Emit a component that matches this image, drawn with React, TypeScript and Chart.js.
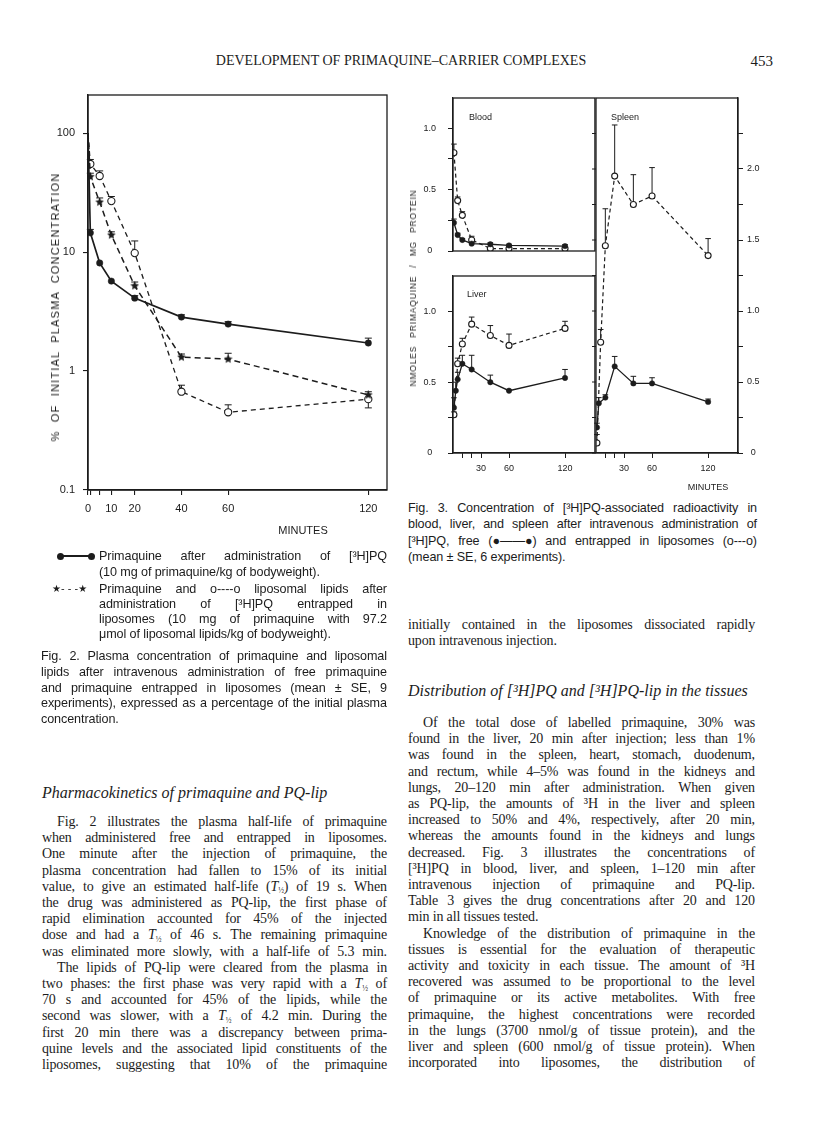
import React, { useEffect, useRef } from "react";
import { Chart, registerables } from "chart.js";
Chart.register(...registerables);

const INK = "#1c1c1c";
const SANS = "'Liberation Sans', Arial, Helvetica, sans-serif";
const SERIF = "'Liberation Serif', 'Times New Roman', serif";

// ---------------- Fig. 2 data (% of initial plasma concentration) ----------------
const fig2Times = [0, 1, 5, 10, 20, 40, 60, 120];
const fig2Free = [100, 14.5, 8.1, 5.7, 4.1, 2.84, 2.48, 1.72];
const fig2FreeSE = [0, 1.0, 0, 0, 0.2, 0.13, 0.12, 0.17];
const fig2LipPQ = [100, 43, 26.3, 13.9, 5.2, 1.31, 1.26, 0.63];
const fig2LipPQSE = [0, 3, 2.2, 0.9, 0.4, 0.08, 0.15, 0.04];
const fig2Lipids = [100, 55, 43.6, 26.8, 9.8, 0.67, 0.45, 0.58];
const fig2LipidsSEUp = [0, 5, 4.5, 2.5, 2.6, 0.09, 0.07, 0];
const fig2LipidsSEDown = [0, 0, 0, 0, 0, 0, 0, 0.09];
const fig2YTicks = [0.1, 1, 10, 100];
const fig2XTicks = [0, 1, 5, 10, 20, 40, 60, 120];
const fig2XLabels = [0, 10, 20, 40, 60, 120];

// ---------------- Fig. 3 data (nmoles primaquine / mg protein) ----------------
const f3XTicks = [10, 20, 30, 60, 120];
const f3XLabels = [30, 60, 120];
const f3YTicks = [0, 0.25, 0.5, 0.75, 1.0];
const f3YLabels = [0, 0.5, 1.0];
const spleenYTicks = [0, 0.25, 0.5, 0.75, 1.0, 1.25, 1.5, 1.75, 2.0, 2.25];
const spleenYLabels = [0, 0.5, 1.0, 1.5, 2.0];

const bloodTimes = [1, 5, 10, 20, 40, 60, 120];
const bloodFree = [0.23, 0.13, 0.09, 0.06, 0.055, 0.045, 0.04];
const bloodFreeSE = [0.03, 0.015, 0.01, 0.01, 0.012, 0.01, 0.012];
const bloodLip = [0.8, 0.41, 0.29, 0.09, 0.02, 0.02, 0.02];
const bloodLipSE = [0.07, 0.03, 0.03, 0.03, 0.01, 0.01, 0.01];

const liverFreeTimes = [1, 3, 5, 10, 20, 40, 60, 120];
const liverFree = [0.32, 0.44, 0.52, 0.63, 0.59, 0.5, 0.44, 0.53];
const liverFreeSE = [0.07, 0.06, 0.05, 0.06, 0.1, 0.05, 0.005, 0.06];
const liverLipTimes = [1, 5, 10, 20, 40, 60, 120];
const liverLip = [0.27, 0.63, 0.77, 0.91, 0.83, 0.76, 0.88];
const liverLipSE = [0.02, 0.04, 0.04, 0.05, 0.07, 0.08, 0.05];

const spleenFreeTimes = [1, 3, 10, 20, 40, 60, 120];
const spleenFree = [0.18, 0.35, 0.39, 0.61, 0.49, 0.49, 0.36];
const spleenFreeSE = [0.03, 0.04, 0.02, 0.07, 0.05, 0.04, 0.02];
const spleenLipTimes = [1, 5, 10, 20, 40, 60, 120];
const spleenLip = [0.07, 0.78, 1.46, 1.95, 1.75, 1.81, 1.39];
const spleenLipSE = [0.06, 0.09, 0.26, 0.36, 0.21, 0.2, 0.12];

// ---------------- text ----------------
type L = { t: string; j?: boolean; ind?: number };
const leftBody: L[] = [
  { t: "Fig. 2 illustrates the plasma half-life of primaquine", j: true, ind: 15 },
  { t: "when administered free and entrapped in liposomes.", j: true },
  { t: "One minute after the injection of primaquine, the", j: true },
  { t: "plasma concentration had fallen to 15% of its initial", j: true },
  { t: "value, to give an estimated half-life (T½) of 19 s. When", j: true },
  { t: "the drug was administered as PQ-lip, the first phase of", j: true },
  { t: "rapid elimination accounted for 45% of the injected", j: true },
  { t: "dose and had a T½ of 46 s. The remaining primaquine", j: true },
  { t: "was eliminated more slowly, with a half-life of 5.3 min.", j: true },
  { t: "The lipids of PQ-lip were cleared from the plasma in", j: true, ind: 15 },
  { t: "two phases: the first phase was very rapid with a T½ of", j: true },
  { t: "70 s and accounted for 45% of the lipids, while the", j: true },
  { t: "second was slower, with a T½ of 4.2 min. During the", j: true },
  { t: "first 20 min there was a discrepancy between prima-", j: true },
  { t: "quine levels and the associated lipid constituents of the", j: true },
  { t: "liposomes, suggesting that 10% of the primaquine", j: true },
];
const rightTop: L[] = [
  { t: "initially contained in the liposomes dissociated rapidly", j: true },
  { t: "upon intravenous injection." },
];
const rightBody: L[] = [
  { t: "Of the total dose of labelled primaquine, 30% was", j: true, ind: 15 },
  { t: "found in the liver, 20 min after injection; less than 1%", j: true },
  { t: "was found in the spleen, heart, stomach, duodenum,", j: true },
  { t: "and rectum, while 4–5% was found in the kidneys and", j: true },
  { t: "lungs, 20–120 min after administration. When given", j: true },
  { t: "as PQ-lip, the amounts of ³H in the liver and spleen", j: true },
  { t: "increased to 50% and 4%, respectively, after 20 min,", j: true },
  { t: "whereas the amounts found in the kidneys and lungs", j: true },
  { t: "decreased. Fig. 3 illustrates the concentrations of", j: true },
  { t: "[³H]PQ in blood, liver, and spleen, 1–120 min after", j: true },
  { t: "intravenous injection of primaquine and PQ-lip.", j: true },
  { t: "Table 3 gives the drug concentrations after 20 and 120", j: true },
  { t: "min in all tissues tested." },
  { t: "Knowledge of the distribution of primaquine in the", j: true, ind: 15 },
  { t: "tissues is essential for the evaluation of therapeutic", j: true },
  { t: "activity and toxicity in each tissue. The amount of ³H", j: true },
  { t: "recovered was assumed to be proportional to the level", j: true },
  { t: "of primaquine or its active metabolites. With free", j: true },
  { t: "primaquine, the highest concentrations were recorded", j: true },
  { t: "in the lungs (3700 nmol/g of tissue protein), and the", j: true },
  { t: "liver and spleen (600 nmol/g of tissue protein). When", j: true },
  { t: "incorporated into liposomes, the distribution of", j: true },
];
const fig3Caption: L[] = [
  { t: "Fig. 3. Concentration of [³H]PQ-associated radioactivity in", j: true },
  { t: "blood, liver, and spleen after intravenous administration of", j: true },
  { t: "[³H]PQ, free (●——●) and entrapped in liposomes (o---o)", j: true },
  { t: "(mean ± SE, 6 experiments)." },
];
const fig2Caption: L[] = [
  { t: "Fig. 2. Plasma concentration of primaquine and liposomal", j: true },
  { t: "lipids after intravenous administration of free primaquine", j: true },
  { t: "and primaquine entrapped in liposomes (mean ± SE, 9", j: true },
  { t: "experiments), expressed as a percentage of the initial plasma", j: true },
  { t: "concentration." },
];
const legend1: L[] = [
  { t: "Primaquine after administration of [³H]PQ", j: true },
  { t: "(10 mg of primaquine/kg of bodyweight)." },
];
const legend2: L[] = [
  { t: "Primaquine and o----o liposomal lipids after", j: true },
  { t: "administration of [³H]PQ entrapped in", j: true },
  { t: "liposomes (10 mg of primaquine with 97.2", j: true },
  { t: "μmol of liposomal lipids/kg of bodyweight)." },
];

// ---------------- helpers ----------------
function rich(s: string): any {
  const parts = s.split("T½");
  if (parts.length === 1) return s;
  const out: any[] = [];
  parts.forEach((p, i) => {
    if (i > 0)
      out.push(
        <span key={"t" + i}>
          <i>T</i>
          <span style={{ fontSize: "0.55em", position: "relative", top: "0.35em" }}>½</span>
        </span>
      );
    if (p) out.push(<span key={"p" + i}>{p}</span>);
  });
  return out;
}

function Lines(props: {
  lines: L[]; x: number; y0: number; dy: number; w: number;
  family: string; size: number; ls?: number;
}) {
  const { lines, x, y0, dy, w, family, size, ls } = props;
  const lh = Math.round(dy);
  return (
    <>
      {lines.map((ln, k) => {
        const ind = ln.ind || 0;
        const base: any = {
          position: "absolute", left: x + ind, top: y0 + k * dy - lh / 2,
          width: w - ind, height: lh, lineHeight: lh + "px", fontFamily: family,
          fontSize: size, letterSpacing: ls || 0, color: INK, whiteSpace: "pre",
        };
        if (ln.j) {
          const words = ln.t.split(" ");
          return (
            <div key={k} style={{ ...base, display: "flex", justifyContent: "space-between", columnGap: 2 }}>
              {words.map((wd, i) => <span key={i}>{rich(wd)}</span>)}
            </div>
          );
        }
        return <div key={k} style={base}>{rich(ln.t)}</div>;
      })}
    </>
  );
}

const framePlugin = {
  id: "frame",
  afterDraw(chart: any) {
    const { ctx, chartArea: a } = chart;
    ctx.save();
    ctx.strokeStyle = INK;
    ctx.lineWidth = 1.3;
    ctx.setLineDash([]);
    ctx.strokeRect(a.left, a.top, a.right - a.left, a.bottom - a.top);
    ctx.restore();
  },
};

const errPlugin = {
  id: "errbars",
  beforeDatasetsDraw(chart: any) {
    const ctx = chart.ctx;
    chart.data.datasets.forEach((ds: any, i: number) => {
      if (!ds.seUp && !ds.seDown) return;
      const meta = chart.getDatasetMeta(i);
      const xs = chart.scales[meta.xAxisID];
      const ys = chart.scales[meta.yAxisID];
      const cap = ds.cap || 3;
      ctx.save();
      ctx.strokeStyle = INK;
      ctx.lineWidth = 1;
      ctx.setLineDash([]);
      ds.data.forEach((p: any, j: number) => {
        const x = xs.getPixelForValue(p.x);
        const y = ys.getPixelForValue(p.y);
        const ends: number[] = [];
        if (ds.seUp && ds.seUp[j] > 0) ends.push(ys.getPixelForValue(p.y + ds.seUp[j]));
        if (ds.seDown && ds.seDown[j] > 0) ends.push(ys.getPixelForValue(p.y - ds.seDown[j]));
        ends.forEach((ye) => {
          ctx.beginPath();
          ctx.moveTo(x, y);
          ctx.lineTo(x, ye);
          ctx.moveTo(x - cap, ye);
          ctx.lineTo(x + cap, ye);
          ctx.stroke();
        });
      });
      ctx.restore();
    });
  },
};

const innerTicksPlugin = {
  id: "innerTicks",
  afterDraw(chart: any, _a: any, opts: any) {
    if (!opts || !opts.values) return;
    const { ctx, chartArea: a } = chart;
    const ys = chart.scales.y;
    ctx.save();
    ctx.strokeStyle = INK;
    ctx.lineWidth = 1;
    opts.values.forEach((v: number) => {
      const y = ys.getPixelForValue(v);
      ctx.beginPath();
      ctx.moveTo(a.left - opts.len, y);
      ctx.lineTo(a.left, y);
      ctx.stroke();
    });
    ctx.restore();
  },
};

function makeStar(size: number) {
  const c = document.createElement("canvas");
  c.width = c.height = size;
  const g = c.getContext("2d")!;
  g.fillStyle = INK;
  g.beginPath();
  for (let k = 0; k < 10; k++) {
    const r = k % 2 === 0 ? size / 2 : size / 4.2;
    const a = -Math.PI / 2 + (k * Math.PI) / 5;
    g.lineTo(size / 2 + r * Math.cos(a), size / 2 + r * Math.sin(a));
  }
  g.closePath();
  g.fill();
  return c;
}

const pts = (xs: number[], ys: number[]) => xs.map((x, i) => ({ x, y: ys[i] }));
const zeroPad = (s: any) => { s.paddingLeft = 0; s.paddingRight = 0; s.paddingTop = 0; s.paddingBottom = 0; };
const fmt3 = (v: number) => (v === 0 ? "0" : v.toFixed(1));

function freeDs(data: any[], se: number[], r = 2.7, w = 1.3) {
  return {
    data, seUp: se, borderColor: INK, borderWidth: w, pointStyle: "circle",
    pointRadius: r, pointBackgroundColor: INK, pointBorderColor: INK, pointBorderWidth: 0.5,
    tension: 0, fill: false, cap: 2.8,
  };
}
function lipDs(data: any[], se: number[], r = 3, w = 1.2, dash = [4, 3]) {
  return {
    data, seUp: se, borderColor: INK, borderWidth: w, borderDash: dash, pointStyle: "circle",
    pointRadius: r, pointBackgroundColor: "#ffffff", pointBorderColor: INK, pointBorderWidth: 1.1,
    tension: 0, fill: false, cap: 2.8,
  };
}

function f3XScale(display: boolean) {
  return {
    type: "linear", min: 0, max: 152, display,
    afterBuildTicks: (s: any) => { s.ticks = f3XTicks.map((v) => ({ value: v })); },
    afterFit: (s: any) => { s.height = 25; zeroPad(s); },
    ticks: {
      autoSkip: false, maxRotation: 0, padding: 5, color: INK,
      font: { family: SANS, size: 9 },
      callback: (v: any) => (f3XLabels.includes(v) ? String(v) : ""),
    },
    grid: { drawOnChartArea: false, tickLength: 5, color: INK, lineWidth: 1 },
    border: { color: INK, width: 1.2 },
  };
}
function f3YLeft(max: number) {
  return {
    type: "linear", min: 0, max,
    afterBuildTicks: (s: any) => { s.ticks = f3YTicks.map((v) => ({ value: v })); },
    afterFit: (s: any) => { s.width = 53; zeroPad(s); },
    ticks: {
      autoSkip: false, padding: 12, crossAlign: "center", color: INK,
      font: { family: SANS, size: 9 },
      callback: (v: any) => (f3YLabels.includes(v) ? fmt3(v) : ""),
    },
    grid: { drawOnChartArea: false, tickLength: 5, color: INK, lineWidth: 1 },
    border: { color: INK, width: 1.2 },
  };
}

function ChartCanvas(props: { left: number; top: number; width: number; height: number; config: () => any }) {
  const ref = useRef<HTMLCanvasElement | null>(null);
  useEffect(() => {
    const chart = new Chart(ref.current as HTMLCanvasElement, props.config());
    return () => chart.destroy();
  }, []);
  return (
    <canvas
      ref={ref}
      width={props.width}
      height={props.height}
      style={{ position: "absolute", left: props.left, top: props.top, width: props.width, height: props.height }}
    />
  );
}

const baseOpts = (padding: any) => ({
  animation: false, responsive: false, maintainAspectRatio: false,
  layout: { padding },
  plugins: { legend: { display: false }, tooltip: { enabled: false } },
});

function fig2Config() {
  const star = makeStar(9);
  return {
    type: "line",
    data: {
      datasets: [
        {
          ...freeDs(pts(fig2Times, fig2Free), fig2FreeSE, 3.2, 1.7),
          pointRadius: (c: any) => (c.dataIndex === 0 ? 0 : 3.2), cap: 3.5,
        },
        {
          data: pts(fig2Times, fig2LipPQ), seUp: fig2LipPQSE, cap: 3.5,
          borderColor: INK, borderWidth: 1.5, borderDash: [6, 4], pointStyle: star,
          pointRadius: (c: any) => (c.dataIndex === 0 ? 0 : 4), tension: 0, fill: false,
        },
        {
          ...lipDs(pts(fig2Times, fig2Lipids), fig2LipidsSEUp, 3.6, 1.3, [5, 4]),
          seDown: fig2LipidsSEDown, cap: 3.5,
          pointRadius: (c: any) => (c.dataIndex === 0 ? 0 : 3.6),
        },
      ],
    },
    options: {
      ...baseOpts({ left: 0, right: 13, top: 10, bottom: 0 }),
      scales: {
        x: {
          type: "linear", min: 0, max: 128,
          afterBuildTicks: (s: any) => { s.ticks = fig2XTicks.map((v) => ({ value: v })); },
          afterFit: (s: any) => { s.height = 35; zeroPad(s); },
          ticks: {
            autoSkip: false, maxRotation: 0, padding: 7, color: INK,
            font: { family: SANS, size: 11 },
            callback: (v: any) => (fig2XLabels.includes(v) ? String(v) : ""),
          },
          grid: { drawOnChartArea: false, tickLength: 5, color: INK, lineWidth: 1.1 },
          border: { color: INK, width: 1.4 },
        },
        y: {
          type: "logarithmic", min: 0.1, max: 209,
          afterBuildTicks: (s: any) => { s.ticks = fig2YTicks.map((v) => ({ value: v })); },
          afterFit: (s: any) => { s.width = 48; zeroPad(s); },
          ticks: {
            autoSkip: false, padding: 8, color: INK,
            font: { family: SANS, size: 11 },
            callback: (v: any) => (fig2YTicks.includes(v) ? String(v) : ""),
          },
          grid: { drawOnChartArea: false, tickLength: 5, color: INK, lineWidth: 1.1 },
          border: { color: INK, width: 1.4 },
        },
      },
    },
    plugins: [framePlugin, errPlugin],
  };
}

function bloodConfig() {
  return {
    type: "line",
    data: {
      datasets: [
        freeDs(pts(bloodTimes, bloodFree), bloodFreeSE),
        lipDs(pts(bloodTimes, bloodLip), bloodLipSE),
      ],
    },
    options: {
      ...baseOpts({ left: 0, right: 4, top: 10, bottom: 10 }),
      scales: { x: f3XScale(false), y: f3YLeft(1.245) },
    },
    plugins: [framePlugin, errPlugin],
  };
}

function liverConfig() {
  return {
    type: "line",
    data: {
      datasets: [
        freeDs(pts(liverFreeTimes, liverFree), liverFreeSE),
        lipDs(pts(liverLipTimes, liverLip), liverLipSE),
      ],
    },
    options: {
      ...baseOpts({ left: 0, right: 4, top: 10, bottom: 0 }),
      scales: { x: f3XScale(true), y: f3YLeft(1.25) },
    },
    plugins: [framePlugin, errPlugin],
  };
}

function spleenConfig() {
  return {
    type: "line",
    data: {
      datasets: [
        freeDs(pts(spleenFreeTimes, spleenFree), spleenFreeSE),
        lipDs(pts(spleenLipTimes, spleenLip), spleenLipSE),
      ],
    },
    options: {
      ...baseOpts({ left: 10, right: 0, top: 10, bottom: 0 }),
      plugins: {
        legend: { display: false }, tooltip: { enabled: false },
        innerTicks: { values: spleenYTicks, len: 4 },
      },
      scales: {
        x: f3XScale(true),
        y: {
          type: "linear", position: "right", min: 0, max: 2.5,
          afterBuildTicks: (s: any) => { s.ticks = spleenYTicks.map((v) => ({ value: v })); },
          afterFit: (s: any) => { s.width = 25; zeroPad(s); },
          ticks: {
            autoSkip: false, padding: 4, crossAlign: "center", color: INK,
            font: { family: SANS, size: 9 },
            callback: (v: any) => (spleenYLabels.includes(v) ? fmt3(v) : ""),
          },
          grid: { drawOnChartArea: false, tickLength: 5, color: INK, lineWidth: 1 },
          border: { color: INK, width: 1.2 },
        },
      },
    },
    plugins: [framePlugin, errPlugin, innerTicksPlugin],
  };
}

function Txt(props: { x: number; y: number; s: any; size: number; family?: string; align?: string; style?: any }) {
  const { x, y, s, size, family, align, style } = props;
  const tx = align === "center" ? "-50%" : align === "right" ? "-100%" : "0";
  return (
    <div
      style={{
        position: "absolute", left: x, top: y, transform: `translate(${tx}, -50%)`,
        fontFamily: family || SANS, fontSize: size, color: INK, whiteSpace: "pre", lineHeight: 1, ...style,
      }}
    >
      {s}
    </div>
  );
}

const BODY = 14;
const BODY_LS = -0.15;
const CAP = 12.6;
const CAP_LS = -0.1;

export default function App() {
  return (
    <div style={{ position: "absolute", left: 0, top: 0, width: 816, height: 1122, background: "#fff", overflow: "hidden" }}>
      {/* running head */}
      <Txt x={401} y={61} s="DEVELOPMENT OF PRIMAQUINE–CARRIER COMPLEXES" size={14} family={SERIF} align="center" />
      <Txt x={773} y={61} s="453" size={15} family={SERIF} align="right" />

      {/* Fig. 2 */}
      <ChartCanvas left={40} top={85} width={360} height={440} config={fig2Config} />
      <div
        style={{
          position: "absolute", left: 55, top: 307, transform: "translate(-50%, -50%) rotate(-90deg)",
          fontFamily: SANS, fontSize: 11, letterSpacing: 1.2, wordSpacing: 4, whiteSpace: "nowrap", color: INK,
        }}
      >
        % OF INITIAL PLASMA CONCENTRATION
      </div>
      <Txt x={303} y={530} s="MINUTES" size={11} align="center" />

      {/* Fig. 2 legend */}
      <div style={{ position: "absolute", left: 57, top: 552.5, width: 38, height: 7 }}>
        <div style={{ position: "absolute", left: 3, right: 3, top: 2.8, height: 1.5, background: INK }} />
        <div style={{ position: "absolute", left: 0, top: 0, width: 7, height: 7, borderRadius: 4, background: INK }} />
        <div style={{ position: "absolute", right: 0, top: 0, width: 7, height: 7, borderRadius: 4, background: INK }} />
      </div>
      <Txt x={52} y={589} s="★- - -★" size={10} family="'DejaVu Sans', sans-serif" />
      <Lines lines={legend1} x={99} y0={556} dy={15.5} w={288} family={SANS} size={CAP} ls={CAP_LS} />
      <Lines lines={legend2} x={99} y0={589} dy={15} w={288} family={SANS} size={CAP} ls={CAP_LS} />

      {/* Fig. 2 caption */}
      <Lines lines={fig2Caption} x={41} y0={656} dy={15.8} w={346} family={SANS} size={CAP} ls={CAP_LS} />

      {/* Left column text */}
      <Txt x={42} y={793} s="Pharmacokinetics of primaquine and PQ-lip" size={16} family={SERIF} style={{ fontStyle: "italic" }} />
      <Lines lines={leftBody} x={42} y0={822} dy={16.2} w={345} family={SERIF} size={BODY} ls={BODY_LS} />

      {/* Fig. 3 */}
      <ChartCanvas left={400} top={88} width={200} height={198} config={bloodConfig} />
      <ChartCanvas left={400} top={266} width={200} height={212} config={liverConfig} />
      <ChartCanvas left={586} top={88} width={177} height={390} config={spleenConfig} />
      <Txt x={469} y={117} s="Blood" size={9} />
      <Txt x={611} y={117} s="Spleen" size={9} />
      <Txt x={467} y={294} s="Liver" size={9} />
      <div
        style={{
          position: "absolute", left: 413, top: 288, transform: "translate(-50%, -50%) rotate(-90deg)",
          fontFamily: SANS, fontSize: 8.5, letterSpacing: 0.8, wordSpacing: 5, whiteSpace: "nowrap", color: INK,
        }}
      >
        NMOLES PRIMAQUINE / MG PROTEIN
      </div>
      <Txt x={708} y={487} s="MINUTES" size={9} align="center" />

      {/* Fig. 3 caption */}
      <Lines lines={fig3Caption} x={408} y0={508} dy={16.4} w={349} family={SANS} size={CAP} ls={CAP_LS} />

      {/* Right column text */}
      <Lines lines={rightTop} x={408} y0={625} dy={16.2} w={347} family={SERIF} size={BODY} ls={BODY_LS} />
      <Txt x={408} y={691} s="Distribution of [³H]PQ and [³H]PQ-lip in the tissues" size={16} family={SERIF} style={{ fontStyle: "italic" }} />
      <Lines lines={rightBody} x={408} y0={723} dy={16.2} w={347} family={SERIF} size={BODY} ls={BODY_LS} />
    </div>
  );
}
